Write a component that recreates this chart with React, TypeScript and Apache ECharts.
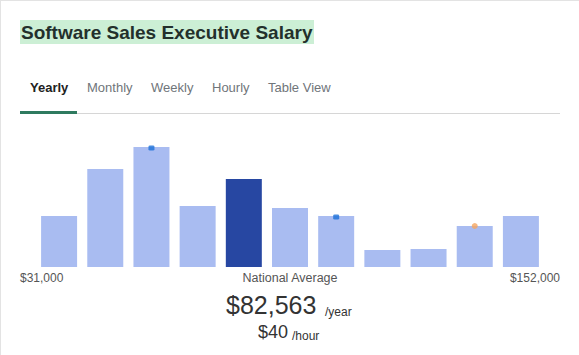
import React, { useEffect, useRef } from "react";
import * as echarts from "echarts";

const categories = [
  "$31k–$42k", "$42k–$53k", "$53k–$64k", "$64k–$75k", "$75k–$86k", "$86k–$97k",
  "$97k–$108k", "$108k–$119k", "$119k–$130k", "$130k–$141k", "$141k–$152k",
];
const counts = [51, 98, 120, 61, 88, 59, 51, 17, 18, 41, 51];
const highlightIndex = 4;
const blueMarkers = [2, 6];
const orangeMarkers = [9];
const tabs = ["Yearly", "Monthly", "Weekly", "Hourly", "Table View"];
const tabX = [30, 87, 151, 212, 268];
const minLabel = "$31,000";
const maxLabel = "$152,000";
const avgLabel = "National Average";
const yearly = "$82,563";
const hourly = "$40";

const FONT = "'Liberation Sans', Arial, sans-serif";

export default function App() {
  const ref = useRef<HTMLDivElement>(null);
  useEffect(() => {
    document.body.style.margin = "0";
    if (!ref.current) return;
    const chart = echarts.init(ref.current, null, { renderer: "svg" });
    const graphic: any[] = [
      { type: "line", shape: { x1: 0, y1: 0.5, x2: 579, y2: 0.5 }, style: { stroke: "#e3e3e3", lineWidth: 1 } },
      { type: "line", shape: { x1: 0.5, y1: 0, x2: 0.5, y2: 355 }, style: { stroke: "#e3e3e3", lineWidth: 1 } },
      { type: "rect", shape: { x: 20, y: 20, width: 294, height: 24 }, style: { fill: "#ccefd5" } },
      {
        type: "text", x: 21, y: 32,
        style: { text: "Software Sales Executive Salary", fontFamily: FONT, fontSize: 19, fontWeight: "bold", fill: "#23302c", textVerticalAlign: "middle" },
      },
      { type: "line", shape: { x1: 77, y1: 113.5, x2: 560, y2: 113.5 }, style: { stroke: "#d6d6d6", lineWidth: 1 } },
      { type: "rect", shape: { x: 20, y: 111, width: 57, height: 3 }, style: { fill: "#2f7a5f" } },
      ...tabs.map((t, i) => ({
        type: "text", x: tabX[i], y: 87,
        style: { text: t, fontFamily: FONT, fontSize: 13, fontWeight: i === 0 ? "bold" : "normal", fill: i === 0 ? "#222" : "#70757a", textVerticalAlign: "middle" },
      })),
      {
        type: "text", x: 20, y: 278,
        style: { text: minLabel, fontFamily: FONT, fontSize: 12, fill: "#555", textVerticalAlign: "middle" },
      },
      {
        type: "text", x: 290, y: 278,
        style: { text: avgLabel, fontFamily: FONT, fontSize: 12.5, fill: "#555", textAlign: "center", textVerticalAlign: "middle" },
      },
      {
        type: "text", x: 560, y: 278,
        style: { text: maxLabel, fontFamily: FONT, fontSize: 12, fill: "#555", textAlign: "right", textVerticalAlign: "middle" },
      },
      {
        type: "text", x: 226, y: 317,
        style: { text: yearly, fontFamily: FONT, fontSize: 25, fill: "#333", textVerticalAlign: "bottom" },
      },
      {
        type: "text", x: 325, y: 318,
        style: { text: "/year", fontFamily: FONT, fontSize: 12, fill: "#333", textVerticalAlign: "bottom" },
      },
      {
        type: "text", x: 258, y: 341,
        style: { text: hourly, fontFamily: FONT, fontSize: 18, fill: "#333", textVerticalAlign: "bottom" },
      },
      {
        type: "text", x: 292, y: 342,
        style: { text: "/hour", fontFamily: FONT, fontSize: 12, fill: "#333", textVerticalAlign: "bottom" },
      },
    ];
    chart.setOption({
      animation: false,
      backgroundColor: "#fff",
      grid: { left: 36, right: 35, top: 147, bottom: 88 },
      xAxis: {
        type: "category",
        data: categories,
        axisLine: { show: false },
        axisTick: { show: false },
        axisLabel: { show: false },
      },
      yAxis: {
        type: "value",
        min: 0,
        max: 120,
        show: false,
        splitLine: { show: false },
      },
      graphic,
      series: [
        {
          type: "bar",
          barWidth: 36,
          data: counts.map((v, i) => ({
            value: v,
            itemStyle: { color: i === highlightIndex ? "#2747a2" : "#a9bcf1" },
          })),
        },
        {
          type: "scatter",
          symbol: "roundRect",
          symbolSize: [6, 5],
          symbolOffset: [0, 1],
          itemStyle: { color: "#1a6fd8" },
          data: blueMarkers.map((i) => [i, counts[i]]),
          z: 5,
        },
        {
          type: "scatter",
          symbol: "circle",
          symbolSize: 6,
          itemStyle: { color: "#f5a55f" },
          data: orangeMarkers.map((i) => [i, counts[i]]),
          z: 5,
        },
      ],
    });
    return () => chart.dispose();
  }, []);
  return <div ref={ref} style={{ width: 579, height: 355 }} />;
}
